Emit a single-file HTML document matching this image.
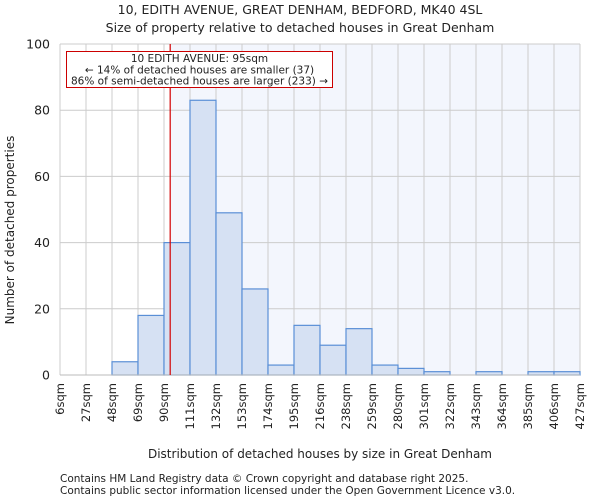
<!DOCTYPE html>
<html><head><meta charset="utf-8"><style>
body{margin:0;background:#fff;font-family:"DejaVu Sans","Liberation Sans",sans-serif}
svg text{font-family:"DejaVu Sans","Liberation Sans",sans-serif;fill:#222}
</style></head><body>
<svg id="c" width="600" height="500">
<text x="300" y="14" text-anchor="middle" font-size="12.5">10, EDITH AVENUE, GREAT DENHAM, BEDFORD, MK40 4SL</text>
<text x="300" y="32" text-anchor="middle" font-size="12.5">Size of property relative to detached houses in Great Denham</text>
<g id="plot"></g>
<text transform="translate(14,230) rotate(-90)" text-anchor="middle" font-size="12">Number of detached properties</text>
<text x="320" y="458" text-anchor="middle" font-size="12">Distribution of detached houses by size in Great Denham</text>
<text x="60" y="482" font-size="10.5" fill="#444">Contains HM Land Registry data © Crown copyright and database right 2025.</text>
<text x="60" y="494" font-size="10.5" fill="#444">Contains public sector information licensed under the Open Government Licence v3.0.</text>
</svg>
<script>
const binLabels=["6sqm","27sqm","48sqm","69sqm","90sqm","111sqm","132sqm","153sqm","174sqm","195sqm","216sqm","238sqm","259sqm","280sqm","301sqm","322sqm","343sqm","364sqm","385sqm","406sqm","427sqm"];
const binEdges=[6,27,48,69,90,111,132,153,174,195,216,237,258,279,300,321,342,363,384,405,426];
const counts=[0,0,4,18,40,83,49,26,3,15,9,14,3,2,1,0,1,0,1,1];
const yTicks=[0,20,40,60,80,100];
const markerSqm=95;
const L=60,R=580,T=44,B=375,NS="http://www.w3.org/2000/svg";
const xs=v=>L+(v-binEdges[0])/(binEdges[binEdges.length-1]-binEdges[0])*(R-L);
const ys=v=>B-v/100*(B-T);
const g=document.getElementById('plot');
function mk(t,a){const e=document.createElementNS(NS,t);for(const k in a)e.setAttribute(k,a[k]);g.appendChild(e);return e;}
let e;
e=mk('rect',{x:xs(markerSqm),y:T,width:R-xs(markerSqm),height:B-T,fill:'#f3f6fd'});


binEdges.forEach((v,i)=>{
 e=mk('line',{x1:xs(v),x2:xs(v),y1:T,y2:B,stroke:'#ccc','stroke-width':1});
 
 
 e=mk('text',{transform:`translate(${xs(v)+4},${B+8}) rotate(-90)`,'text-anchor':'end','font-size':11.5});
 e.textContent=binLabels[i];
 
 
});
yTicks.forEach(v=>{
 e=mk('line',{x1:L,x2:R,y1:ys(v),y2:ys(v),stroke:'#ccc','stroke-width':1});
 
 
 e=mk('text',{x:L-10,y:ys(v)+4.5,'text-anchor':'end','font-size':12.5});
 e.textContent=v;
 
 
});
counts.forEach((c,i)=>{
 if(c<=0)return;
 e=mk('rect',{x:xs(binEdges[i]),y:ys(c),width:xs(binEdges[i+1])-xs(binEdges[i]),height:B-ys(c),fill:'#d6e1f3',stroke:'#5a8fd6','stroke-width':1.2});
 
 
});
e=mk('line',{x1:L,x2:R,y1:B,y2:B,stroke:'#bbb','stroke-width':1});


e=mk('line',{x1:xs(markerSqm),x2:xs(markerSqm),y1:T,y2:B,stroke:'#d40000','stroke-width':1.2});


e=mk('rect',{x:66.5,y:51.5,width:266,height:36,fill:'#fff',stroke:'#c00','stroke-width':1});


["10 EDITH AVENUE: 95sqm","← 14% of detached houses are smaller (37)","86% of semi-detached houses are larger (233) →"].forEach((t,i)=>{
 e=mk('text',{x:199.5,y:62+i*11.3,'text-anchor':'middle','font-size':10.5});
 e.textContent=t;
 
 
});
</script>
</body></html>
